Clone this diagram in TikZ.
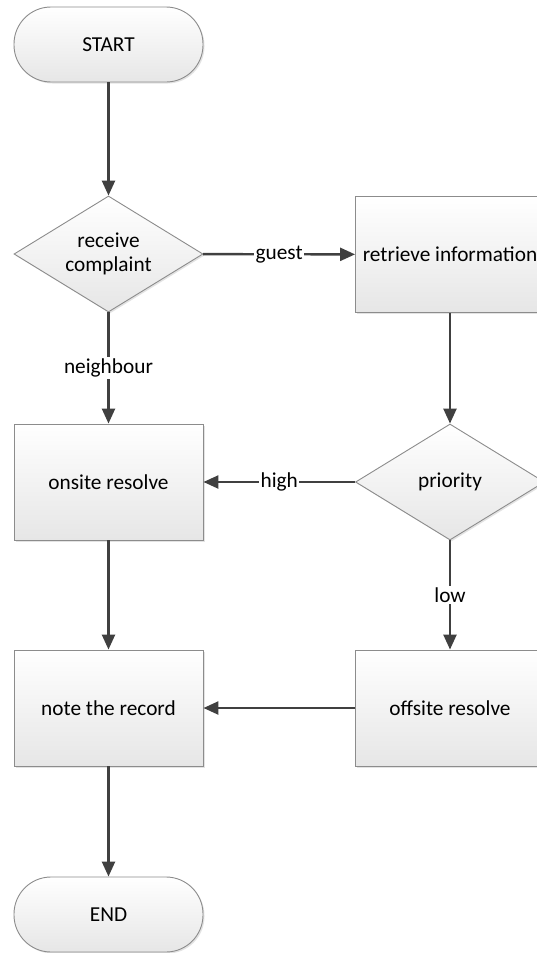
\documentclass[tikz,border=0pt]{standalone}
\usepackage{fontspec}
\setmainfont{Carlito}
\usetikzlibrary{arrows.meta,shapes.geometric,shadows}
\definecolor{edgegray}{RGB}{64,64,64}
\definecolor{bordergray}{RGB}{140,140,140}
\definecolor{fillbottom}{RGB}{230,230,230}
\begin{document}
\begin{tikzpicture}[x=1pt,y=-1pt,
  every node/.style={font=\fontsize{21.3}{24.5}\selectfont},
  base/.style={draw=bordergray, line width=0.9pt, top color=white, bottom color=fillbottom,
    drop shadow={opacity=0.22, shadow xshift=1.5pt, shadow yshift=-1.5pt},
    align=center, inner sep=0pt},
  terminal/.style={base, rectangle, rounded corners=37pt, minimum width=189pt, minimum height=75pt},
  process/.style={base, rectangle, minimum width=189pt, minimum height=116pt},
  decision/.style={base, diamond, aspect=1.63, minimum width=189pt, minimum height=116pt},
  flow/.style={draw=edgegray, line width=2.4pt, -{Triangle[length=15pt,width=13pt]}},
  lbl/.style={fill=white, inner sep=1.5pt, text=black}
]
\useasboundingbox (0,0) rectangle (537,953);
\clip (0,0) rectangle (537,953);
\fill[white] (0,0) rectangle (537,953);

\node[terminal] (start) at (108.5,44.5) {START};
\node[decision] (receive) at (108.5,254) {receive\\complaint};
\node[process] (retrieve) at (450,254.5) {retrieve information};
\node[process] (onsite) at (108.5,482) {onsite resolve};
\node[decision] (priority) at (450,482) {priority};
\node[process] (note) at (108.5,708) {note the record};
\node[process] (offsite) at (450,708) {offsite resolve};
\node[terminal] (end) at (108.5,914.5) {END};

\draw[flow] (start) -- (receive);
\draw[flow] (receive) -- node[lbl] {guest} (retrieve);
\draw[flow] (receive) -- node[lbl] {neighbour} (onsite);
\draw[flow] (retrieve) -- (priority);
\draw[flow] (priority) -- node[lbl] {high} (onsite);
\draw[flow] (priority) -- node[lbl] {low} (offsite);
\draw[flow] (offsite) -- (note);
\draw[flow] (onsite) -- (note);
\draw[flow] (note) -- (end);
\end{tikzpicture}
\end{document}
